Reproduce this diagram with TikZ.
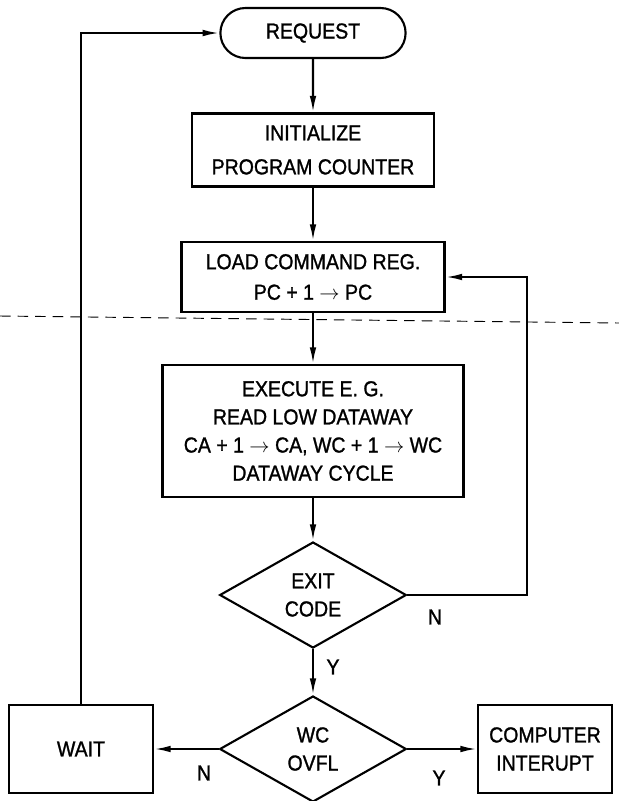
\documentclass[tikz,border=0pt]{standalone}
\usepackage{fontspec}
\setmainfont{Liberation Sans}[FakeStretch=0.9, FakeBold=1.2]
\usepackage{tikz}
\usetikzlibrary{positioning, arrows.meta, shapes.geometric, shapes.misc}

\begin{document}
\begin{tikzpicture}[
    x=0.03cm, y=-0.03cm,
    every node/.style={font=\fontsize{18.5}{24}\selectfont},
    block/.style={rectangle, draw, line width=1.8pt, align=center, inner sep=2pt},
    term/.style={rounded rectangle, draw, line width=1.8pt, minimum width=5.79cm, minimum height=1.5cm},
    decision/.style={diamond, draw, line width=1.8pt, align=center, inner sep=0pt, minimum width=5.6cm, minimum height=3.18cm},
    arrow/.style={-{Latex[length=0.5cm, width=0.2cm]}, line width=1.8pt}
]
    \useasboundingbox (0,0) rectangle (619,801);

    % Hauptablauf von oben nach unten
    \node [term] (req) at (313,33) {REQUEST};
    \node [block, minimum width=7.26cm, minimum height=2.19cm] (init) at (313,150) {INITIALIZE\\[5pt]PROGRAM COUNTER};
    \node [block, minimum width=7.89cm, minimum height=2.1cm] (load) at (313,277) {LOAD COMMAND REG.\\[2pt]PC + 1 $\rightarrow$ PC};
    \node [block, minimum width=9.03cm, minimum height=3.96cm] (exec) at (313,431) {EXECUTE E. G.\\READ LOW DATAWAY\\CA + 1 $\rightarrow$ CA, WC + 1 $\rightarrow$ WC\\DATAWAY CYCLE};
    \node [decision] (exit) at (313,595) {EXIT\\CODE};
    \node [decision] (ovfl) at (313,749) {WC\\OVFL};
    \node [block, minimum width=4.32cm, minimum height=2.64cm] (wait) at (81,749) {WAIT};
    \node [block, minimum width=4.02cm, minimum height=2.64cm] (intr) at (545,749) {COMPUTER\\INTERUPT};

    \draw [arrow] (req) -- (init);
    \draw [arrow] (init) -- (load);
    \draw [arrow] (load) -- (exec);
    \draw [arrow] (exec) -- (exit);
    \draw [arrow] (exit) -- (ovfl);
    \draw [arrow] (ovfl.west) -- (wait.east);
    \draw [arrow] (ovfl.east) -- (intr.west);

    % Rueckfuehrungen
    \coordinate (back) at (527,595);
    \draw [arrow] (exit.east) -- (back) |- (load.east);
    \draw [arrow] (wait.north) |- (req.west);

    % Verzweigungen beschriften
    \node (exitn) at (435,617) {N};
    \node (exity) at (333,667) {Y};
    \node (ovfln) at (204,773) {N};
    \node (ovfly) at (439,778) {Y};

    % Knickfalte des Originals
    \draw [dash pattern=on 9pt off 6pt, line width=0.8pt] (0,316) -- (619,323);

\end{tikzpicture}
\end{document}
